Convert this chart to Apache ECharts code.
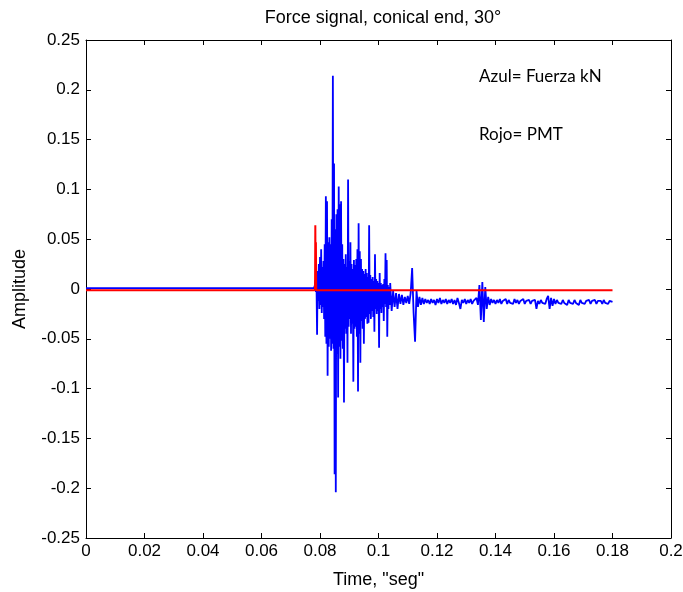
<!DOCTYPE html>
<html>
<head>
<meta charset="utf-8">
<script src="https://cdn.jsdelivr.net/npm/echarts@6/dist/echarts.min.js"></script>
<style>html,body{margin:0;padding:0;background:#fff;}#c{width:683px;height:592px;}</style>
</head>
<body>
<div id="c"></div>
<script>
// ---- data ----
var chartTitle = 'Force signal, conical end, 30°';
var xName = 'Time, "seg"';
var yName = 'Amplitude';
var xTicks = [0, 0.02, 0.04, 0.06, 0.08, 0.1, 0.12, 0.14, 0.16, 0.18, 0.2];
var yTicks = [-0.25, -0.2, -0.15, -0.1, -0.05, 0, 0.05, 0.1, 0.15, 0.2, 0.25];
var noteBlue = 'Azul= Fuerza kN';
var noteRed = 'Rojo= PMT';

// blue (force) before the event: [time, value]
var bluePre = [[0, 0.0008], [0.0779, 0.0008]];
// blue burst, sampled from t = 0.0780 every 0.0002 s
var blueBurstStart = 0.0780, blueBurstStep = 0.0002;
var blueBurst = [
 0.001, 0.003, 0.009, -0.003, 0.006, -0.046, 0.018, -0.012, 0.025, -0.020,
 0.032, -0.016, 0.040, -0.024, 0.022, -0.018, 0.028, -0.030, 0.045, -0.048,
 0.093, -0.055, 0.088, -0.087, 0.047, -0.058, 0.052, -0.050, 0.045, -0.062,
 0.070, -0.055, 0.214, -0.060, 0.126, -0.186, 0.060, -0.204, 0.075, -0.065,
 0.080, -0.109, 0.103, -0.058, 0.085, -0.070, 0.088, -0.052, 0.045, -0.060,
 0.030, -0.114, 0.025, -0.040, 0.035, -0.045, 0.022, -0.074, 0.110, -0.038,
 0.028, -0.030, 0.047, -0.045, 0.025, -0.035, 0.020, -0.093, 0.029, -0.040,
 0.024, -0.038, 0.030, -0.048, 0.040, -0.103, 0.066, -0.045, 0.038, -0.074,
 0.030, -0.032, 0.020, -0.040, 0.018, -0.055, 0.015, -0.030, 0.020, -0.028,
 0.016, -0.035, 0.012, -0.034, 0.064, -0.025, 0.014, -0.030, 0.010, -0.022,
 0.012, -0.028, 0.008, -0.043, 0.035, -0.020, 0.010, -0.025, 0.008, -0.022,
 0.006, -0.059, 0.016, -0.020, 0.006, -0.024, 0.004, -0.018, 0.005, -0.032,
 0.010, -0.015, 0.036, -0.018, 0.029, -0.048, 0.004, -0.020, 0.002, -0.016
];
// blue tail, sampled from t = 0.1040 every 0.0005 s
var blueTailStart = 0.1040, blueTailStep = 0.0005;
var blueTail = [
 0.006, -0.022, -0.002, -0.018, -0.004, -0.020, -0.005, -0.015, -0.006, -0.016,
 -0.008, -0.014, -0.007, -0.015, -0.004, 0.021, -0.024, -0.053, -0.002, -0.018,
 -0.008, -0.016, -0.009, -0.015, -0.010, -0.014, -0.011, -0.015, -0.010, -0.014,
 -0.011, -0.016, -0.010, -0.014, -0.009, -0.015, -0.011, -0.014, -0.010, -0.015,
 -0.011, -0.014, -0.010, -0.015, -0.011, -0.016, -0.009, -0.014, -0.020, -0.011,
 -0.014, -0.010, -0.015, -0.011, -0.014, -0.010, -0.015, -0.012, -0.014, -0.009,
 -0.016, 0.004, -0.031, 0.007, -0.033, 0.002, -0.020, -0.008, -0.016, -0.010,
 -0.014, -0.011, -0.015, -0.011, -0.014, -0.010, -0.015, -0.012, -0.014, -0.010,
 -0.015, -0.011, -0.014, -0.012, -0.015, -0.010, -0.014, -0.011, -0.015, -0.012,
 -0.014, -0.010, -0.015, -0.012, -0.014, -0.011, -0.015, -0.012, -0.014, -0.011,
 -0.020, -0.012, -0.015, -0.011, -0.014, -0.012, -0.015, -0.010, -0.007, -0.020,
 -0.009, -0.017, -0.010, -0.015, -0.011, -0.014, -0.012, -0.015, -0.011, -0.014,
 -0.012, -0.016, -0.011, -0.014, -0.012, -0.015, -0.011, -0.014, -0.012, -0.016,
 -0.011, -0.014, -0.012, -0.015, -0.012, -0.014, -0.011, -0.015, -0.012, -0.014,
 -0.011, -0.015, -0.012, -0.014, -0.012, -0.015, -0.011, -0.014, -0.012, -0.015,
 -0.012, -0.014, -0.013
];
// red (PMT): [time, value]
var redPMT = [
 [0, -0.0012], [0.010, -0.0012], [0.0105, -0.0025], [0.011, -0.0012], [0.030, -0.0012],
 [0.0305, -0.0025], [0.031, -0.0012], [0.060, -0.0012], [0.0605, -0.0025], [0.061, -0.0012],
 [0.0783, -0.0012], [0.0784, 0.064], [0.0785, 0.010], [0.0786, 0.047], [0.0787, -0.0012],
 [0.095, -0.0012], [0.0955, -0.0025], [0.096, -0.0012], [0.120, -0.0012], [0.1205, -0.0025],
 [0.121, -0.0012], [0.145, -0.0012], [0.1455, -0.0025], [0.146, -0.0012], [0.165, -0.0012],
 [0.1655, -0.0025], [0.166, -0.0012], [0.180, -0.0012]
];

// ---- build series data ----
var blueData = bluePre.slice();
blueBurst.forEach(function (v, i) { blueData.push([+(blueBurstStart + i * blueBurstStep).toFixed(5), v]); });
blueTail.forEach(function (v, i) { blueData.push([+(blueTailStart + i * blueTailStep).toFixed(5), v]); });

function fmt(v) { return String(parseFloat(Number(v).toFixed(3))); }

var font = 'Liberation Sans';
var chart = echarts.init(document.getElementById('c'));
var axisBase = {
  type: 'value',
  axisLine: { show: true, onZero: false, lineStyle: { color: '#000', width: 1 } },
  axisTick: { show: true, inside: true, length: 5, lineStyle: { color: '#000' } },
  splitLine: { show: false }
};
chart.setOption({
  animation: false,
  backgroundColor: '#fff',
  title: {
    text: chartTitle, left: 378, top: 4, textAlign: 'center',
    textStyle: { fontFamily: font, fontSize: 18, fontWeight: 'normal', color: '#000' }
  },
  grid: { left: 86, right: 12, top: 40, bottom: 54, containLabel: false, outerBoundsMode: 'none' },
  xAxis: [
    Object.assign({}, axisBase, {
      min: xTicks[0], max: xTicks[xTicks.length - 1], interval: 0.02, position: 'bottom',
      name: xName, nameLocation: 'middle', nameGap: 33,
      nameTextStyle: { fontFamily: font, fontSize: 18, color: '#000' },
      axisLabel: { fontFamily: font, fontSize: 17, color: '#000', margin: 5, formatter: fmt }
    }),
    Object.assign({}, axisBase, {
      min: xTicks[0], max: xTicks[xTicks.length - 1], interval: 0.02, position: 'top',
      axisLabel: { show: false }
    })
  ],
  yAxis: [
    Object.assign({}, axisBase, {
      min: yTicks[0], max: yTicks[yTicks.length - 1], interval: 0.05, position: 'left',
      name: yName, nameLocation: 'middle', nameGap: 57, nameRotate: 90,
      nameTextStyle: { fontFamily: font, fontSize: 18, color: '#000' },
      axisLabel: { fontFamily: font, fontSize: 17, color: '#000', margin: 6, formatter: fmt }
    }),
    Object.assign({}, axisBase, {
      min: yTicks[0], max: yTicks[yTicks.length - 1], interval: 0.05, position: 'right',
      axisLabel: { show: false }
    })
  ],
  series: [
    {
      name: 'Fuerza', type: 'line', data: blueData, showSymbol: false, sampling: null,
      lineStyle: { color: '#0000ff', width: 1.8 }, z: 2
    },
    {
      name: 'PMT', type: 'line', data: redPMT, showSymbol: false,
      lineStyle: { color: '#ff0000', width: 2 }, z: 3
    }
  ],
  graphic: [
    { type: 'text', left: 479, top: 68, style: { text: noteBlue, font: '17px Lato, "Open Sans", sans-serif', fill: '#000' } },
    { type: 'text', left: 479, top: 126, style: { text: noteRed, font: '17px Lato, "Open Sans", sans-serif', fill: '#000' } }
  ]
});
</script>
</body>
</html>
